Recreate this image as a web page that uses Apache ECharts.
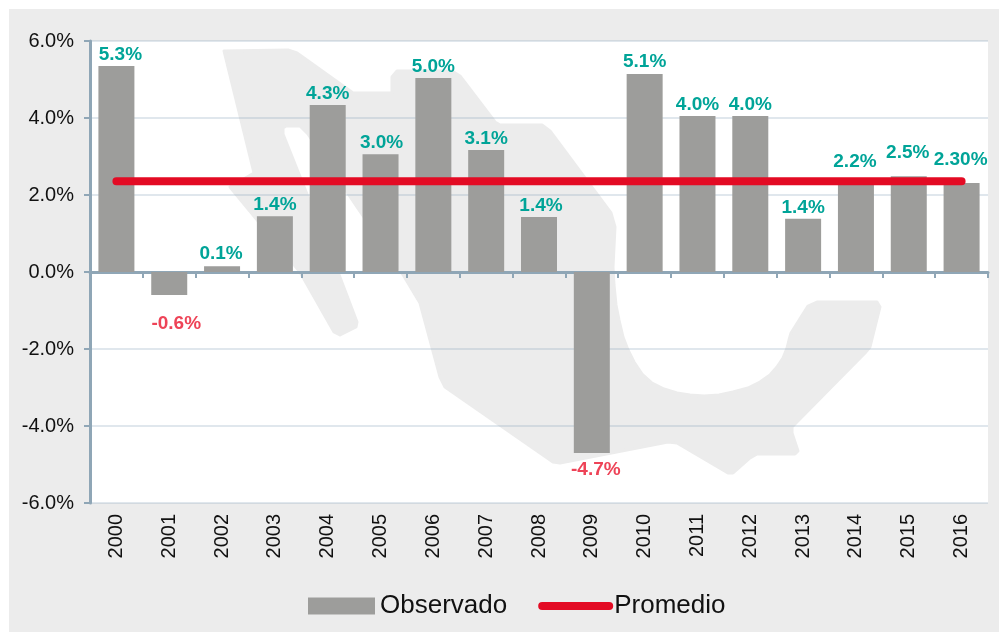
<!DOCTYPE html>
<html>
<head>
<meta charset="utf-8">
<style>html,body{margin:0;padding:0;background:#fff}#c{width:999px;height:632px}</style>
<script src="https://cdn.jsdelivr.net/npm/echarts@6/dist/echarts.min.js"></script>
</head>
<body>
<div id="c"></div>
<script>
const years = ['2000','2001','2002','2003','2004','2005','2006','2007','2008','2009','2010','2011','2012','2013','2014','2015','2016'];
const observado = [5.35,-0.6,0.15,1.45,4.34,3.06,5.04,3.17,1.43,-4.7,5.14,4.05,4.05,1.38,2.28,2.49,2.31];
const promedio = [2.36,2.36,2.36,2.36,2.36,2.36,2.36,2.36,2.36,2.36,2.36,2.36,2.36,2.36,2.36,2.36,2.36];
const barLabels = ['5.3%','-0.6%','0.1%','1.4%','4.3%','3.0%','5.0%','3.1%','1.4%','-4.7%','5.1%','4.0%','4.0%','1.4%','2.2%','2.5%','2.30%'];
const yTicks = {min:-6,max:6,step:2};

const TEAL='#00a498', RED='#ee4357', AXIS='#8fa6b6', GRID='rgba(140,165,190,0.27)';
// per-label nudges relative to the default bar-end position
const nudges = {0:[4,0],1:[7,17],2:[-1,-1],5:[1,0],8:[2,0],9:[4,5],10:[0,-1],14:[-1,-11],15:[-1,-12],16:[-1,-12]};

// decorative silhouette behind the plot
const silhouette = [[224,51],[288,50],[297,53],[353,93],[392,93],[392,77],[397,71],[452,71],[460,76],[495,122],[500,125],[542,125],[550,131],[611,213],[615,227],[613,267],[614,285],[616,305],[619,320],[623,337],[628,350],[634,362],[642,374],[652,383],[664,389],[677,393],[690,395],[704,396],[719,395],[733,392],[748,388],[760,382],[770,375],[777,367],[783,358],[787,348],[789,340],[791,333],[808,306],[817,302],[877,302],[880,307],[870,347],[865,353],[792,427],[792,433],[798,451],[795,454],[757,454],[750,458],[733,473],[728,473],[677,443],[668,442],[560,463],[553,462],[445,387],[440,377],[420,303],[402,273],[357,207],[308,134],[300,126],[286,126],[283,128],[283,134],[338,272],[357,322],[356,327],[340,335],[334,332],[300,272],[230,187],[254,173]];

const chart = echarts.init(document.getElementById('c'),null,{renderer:'canvas'});
chart.setOption({
  animation:false,
  backgroundColor:'#fff',
  textStyle:{fontFamily:'"Liberation Sans",Arial,sans-serif'},
  graphic:{elements:[
    {type:'rect',z:-30,silent:true,shape:{x:9,y:9,width:990,height:623},style:{fill:'#ececec'}},
    {type:'rect',z:-20,silent:true,shape:{x:90,y:41,width:898,height:462},style:{fill:'#fff'}},
    {type:'polygon',z:-10,silent:true,shape:{points:silhouette},style:{fill:'#ececec',stroke:'#ececec',lineWidth:3,lineJoin:'round'}}
  ]},
  grid:{left:90,top:41,right:11,bottom:129,containLabel:false},
  legend:{
    left:303,top:588,itemWidth:67,itemHeight:17,itemGap:31,
    textStyle:{fontSize:26,color:'#111',fontFamily:'"Liberation Sans",Arial,sans-serif'},
    data:[{name:'Observado',icon:'rect'},{name:'Promedio',itemStyle:{opacity:0},lineStyle:{color:'#e30b24',width:8,cap:'round'}}]
  },
  xAxis:[
    {type:'category',data:years,position:'bottom',
     axisLine:{show:true,onZero:true,lineStyle:{color:AXIS,width:3}},
     axisTick:{show:true,length:6,lineStyle:{color:AXIS,width:2}},
     axisLabel:{show:false},splitLine:{show:false}},
    {type:'category',data:years,position:'bottom',
     axisLine:{show:false,onZero:false},axisTick:{show:false},
     axisLabel:{show:true,rotate:90,margin:11,fontSize:20,color:'#111',interval:0},splitLine:{show:false}}
  ],
  yAxis:{type:'value',min:yTicks.min,max:yTicks.max,interval:yTicks.step,
    axisLine:{show:true,onZero:false,lineStyle:{color:AXIS,width:3}},
    axisTick:{show:true,length:6,lineStyle:{color:AXIS,width:2}},
    axisLabel:{fontSize:20,color:'#111',margin:16,formatter:v=>v.toFixed(1)+'%'},
    splitLine:{show:true,lineStyle:{color:GRID,width:2}}
  },
  series:[
    {name:'Observado',type:'bar',xAxisIndex:0,barWidth:36,itemStyle:{color:'#9d9d9b'},z:2,
     data:observado.map((v,i)=>({value:v,label:{
       show:true,position:v<0?'bottom':'top',distance:2,offset:nudges[i]||[0,0],
       formatter:barLabels[i],fontSize:19,fontWeight:'bold',color:v<0?RED:TEAL,
       fontFamily:'"Liberation Sans",Arial,sans-serif'}}))},
    {name:'Promedio',type:'line',xAxisIndex:0,data:promedio,symbol:'none',z:3,
     itemStyle:{color:'#e30b24'},
     lineStyle:{color:'#e30b24',width:8,cap:'round'}}
  ]
});
</script>
</body>
</html>
